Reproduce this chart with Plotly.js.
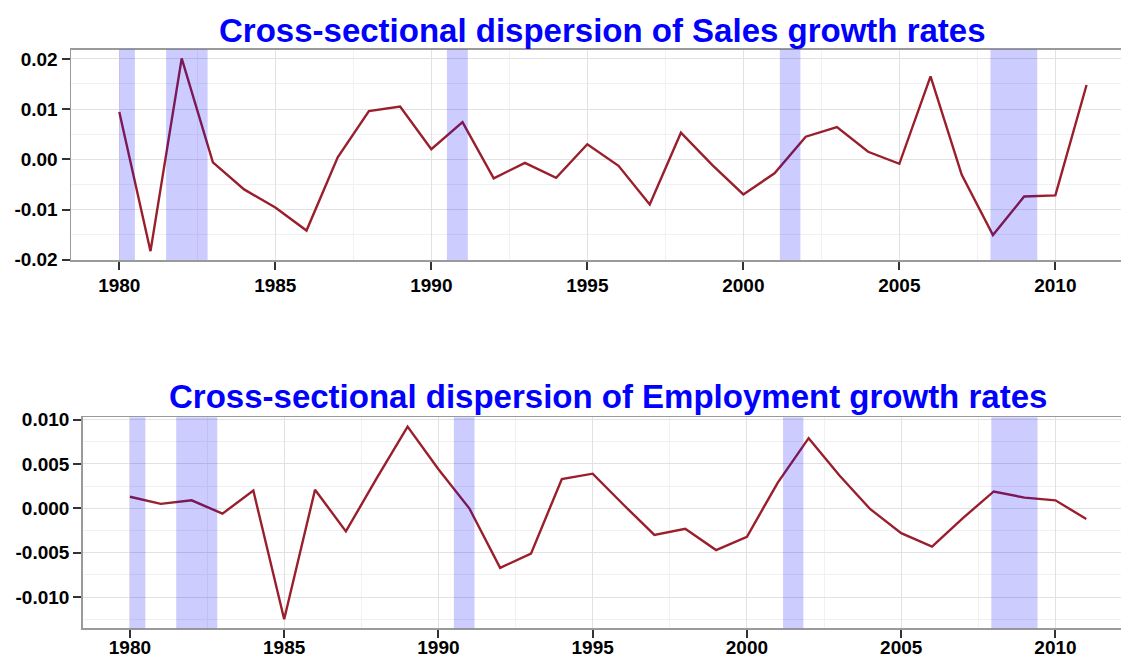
<!DOCTYPE html>
<html>
<head>
<meta charset="utf-8">
<script src="https://cdn.plot.ly/plotly-3.0.1.min.js"></script>
<style>
html, body { margin: 0; padding: 0; overflow: hidden; background: #fff; }
#chart { width: 1140px; height: 661px; }
</style>
</head>
<body>
<div id="chart"></div>
<script>
// ---- data ----
const years = [1980,1981,1982,1983,1984,1985,1986,1987,1988,1989,1990,1991,1992,1993,1994,1995,1996,1997,1998,1999,2000,2001,2002,2003,2004,2005,2006,2007,2008,2009,2010,2011];
const salesDispersion = [0.0094,-0.0183,0.0201,-0.0006,-0.0060,-0.0096,-0.0142,0.0004,0.0096,0.0105,0.0020,0.0074,-0.0038,-0.0007,-0.0037,0.0030,-0.0013,-0.0090,0.0053,-0.0011,-0.0070,-0.0028,0.0045,0.0064,0.0015,-0.0009,0.0165,-0.0031,-0.0151,-0.0074,-0.0072,0.0148];
const employmentDispersion = [0.0013,0.0005,0.0009,-0.0006,0.0020,-0.0125,0.0021,-0.0026,0.0034,0.0092,0.0044,0.0000,-0.0067,-0.0051,0.0033,0.0039,0.0004,-0.0030,-0.0023,-0.0047,-0.0032,0.0029,0.0079,0.0037,-0.0001,-0.0028,-0.0043,-0.0011,0.0019,0.0012,0.0009,-0.0012];
const recessionStart = [1980.0, 1981.5, 1990.5, 2001.17, 2007.92];
const recessionEnd   = [1980.5, 1982.83, 1991.17, 2001.83, 2009.42];
const salesTitle = "Cross-sectional dispersion of Sales growth rates";
const employmentTitle = "Cross-sectional dispersion of Employment growth rates";
const xTickVals = [1980,1985,1990,1995,2000,2005,2010];
const xTickText = ["1980","1985","1990","1995","2000","2005","2010"];
const salesTickVals = [0.02,0.01,0.00,-0.01,-0.02];
const salesTickText = ["0.02","0.01","0.00","-0.01","-0.02"];
const empTickVals = [0.010,0.005,0.000,-0.005,-0.010];
const empTickText = ["0.010","0.005","0.000","-0.005","-0.010"];

// ---- layout helpers ----
const W = 1140, H = 661;
const lineColor = "#9a1f2c";
const tickFont = {family: "Liberation Sans, Arial, sans-serif", size: 19, color: "#000", weight: "bold"};

function axisCommon() {
  return {
    showline: true, linecolor: "#9a9a9a", linewidth: 1.5, mirror: true,
    ticks: "outside", ticklen: 8, tickwidth: 2, tickcolor: "#333",
    showgrid: true, gridcolor: "#e2e2e2", gridwidth: 1,
    zeroline: false, tickfont: tickFont, fixedrange: true
  };
}

const xa1 = Object.assign(axisCommon(), {
  domain: [71/W, 1134.6/W], range: [1978.452, 2012.54], anchor: "y",
  tickmode: "array", tickvals: xTickVals, ticktext: xTickText,
  minor: {dtick: 2.5, tick0: 1980, showgrid: true, gridcolor: "#f1f1f1", ticks: ""}
});
const ya1 = Object.assign(axisCommon(), {
  domain: [1-260/H, 1-49.5/H], range: [-0.02006, 0.02187], anchor: "x",
  tickmode: "array", tickvals: salesTickVals, ticktext: salesTickText,
  minor: {dtick: 0.005, tick0: 0, showgrid: true, gridcolor: "#f1f1f1", ticks: ""}
});
const xa2 = Object.assign(axisCommon(), {
  domain: [82.7/W, 1133.5/W], range: [1978.469, 2012.53], anchor: "y2",
  tickmode: "array", tickvals: xTickVals, ticktext: xTickText,
  ticklabelstandoff: -7,
  minor: {dtick: 2.5, tick0: 1980, showgrid: true, gridcolor: "#f1f1f1", ticks: ""}
});
const ya2 = Object.assign(axisCommon(), {
  domain: [1-628.3/H, 1-417.3/H], range: [-0.01351, 0.01025], anchor: "x2",
  tickmode: "array", tickvals: empTickVals, ticktext: empTickText,
  minor: {dtick: 0.0025, tick0: 0, showgrid: true, gridcolor: "#f1f1f1", ticks: ""}
});

const shapes = [];
for (let i = 0; i < recessionStart.length; i++) {
  [["x","y"],["x2","y2"]].forEach(([xr, yr]) => {
    shapes.push({
      type: "rect", xref: xr, yref: yr + " domain",
      x0: recessionStart[i], x1: recessionEnd[i], y0: 0, y1: 1,
      fillcolor: "rgba(0,0,255,0.2)", line: {width: 0}, layer: "above"
    });
  });
}

const traces = [
  {x: years, y: salesDispersion, xaxis: "x", yaxis: "y", type: "scatter", mode: "lines",
   line: {color: lineColor, width: 2.4}, hoverinfo: "skip"},
  {x: years, y: employmentDispersion, xaxis: "x2", yaxis: "y2", type: "scatter", mode: "lines",
   line: {color: lineColor, width: 2.4}, hoverinfo: "skip"}
];

const titleFont = {family: "Liberation Sans, Arial, sans-serif", size: 33, color: "#0000ff", weight: "bold"};
const layout = {
  width: W, height: H,
  margin: {l: 0, r: 0, t: 0, b: 0},
  paper_bgcolor: "#fff", plot_bgcolor: "#fff",
  showlegend: false,
  xaxis: xa1, yaxis: ya1, xaxis2: xa2, yaxis2: ya2,
  shapes: shapes,
  annotations: [
    {text: salesTitle, xref: "paper", yref: "paper", x: (71+1134.6)/2/W, y: 1-30/H,
     xanchor: "center", yanchor: "middle", showarrow: false, font: titleFont},
    {text: employmentTitle, xref: "paper", yref: "paper", x: (82.7+1133.5)/2/W, y: 1-396/H,
     xanchor: "center", yanchor: "middle", showarrow: false, font: titleFont}
  ]
};

Plotly.newPlot("chart", traces, layout, {displayModeBar: false, staticPlot: true});
</script>
</body>
</html>
